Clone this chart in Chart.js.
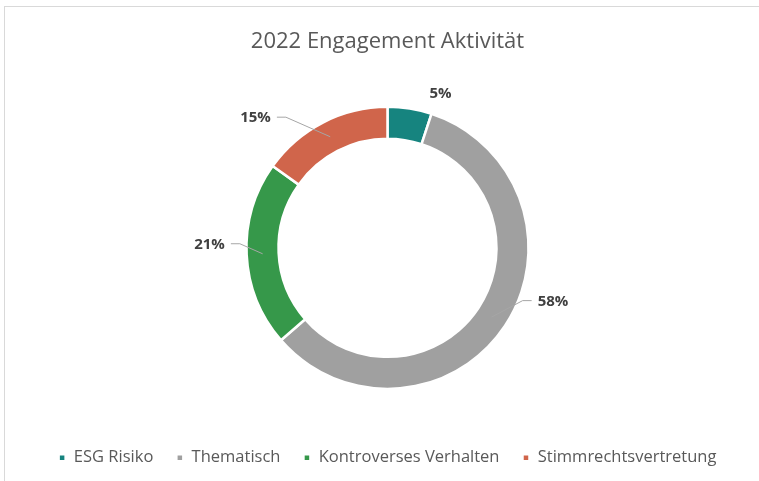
<!DOCTYPE html>
<html>
<head>
<meta charset="utf-8">
<script src="https://cdn.jsdelivr.net/npm/chart.js@4"></script>
<style>
  html, body { margin: 0; padding: 0; background: #fff; }
  #frame { position: absolute; left: 4px; top: 6px; width: 755px; height: 475px;
           border-top: 1px solid #d9d9d9; border-left: 1px solid #d9d9d9; }
  #myChart { position: absolute; left: 0; top: 0; }
</style>
</head>
<body>
<div id="frame"></div>
<canvas id="myChart" width="759" height="481"></canvas>
<script>
// chart data
const categories = ['ESG Risiko', 'Thematisch', 'Kontroverses Verhalten', 'Stimmrechtsvertretung'];
const shares = [5, 58, 21, 15];
const sliceColors = ['#16847F', '#A0A0A0', '#36984A', '#D0654B'];

const FONT = '"Open Sans", sans-serif';

// draws the percent labels outside the ring, with leader lines like excel
const sliceLabels = {
    id: 'sliceLabels',
    afterDatasetsDraw(chart, args, opts) {
        const ctx = chart.ctx;
        const meta = chart.getDatasetMeta(0);
        ctx.save();
        ctx.font = 'bold 15px ' + FONT;
        ctx.textAlign = 'center';
        ctx.textBaseline = 'middle';
        meta.data.forEach((arc, i) => {
            const p = arc.getProps(['x', 'y', 'startAngle', 'endAngle', 'innerRadius', 'outerRadius']);
            const mid = (p.startAngle + p.endAngle) / 2;
            const rMid = (p.innerRadius + p.outerRadius) / 2;
            const ax = p.x + Math.cos(mid) * rMid;
            const ay = p.y + Math.sin(mid) * rMid;
            const pl = opts.placement[i];
            const a = (pl.angle - 90) * Math.PI / 180;
            const lx = p.x + Math.cos(a) * pl.dist;
            const ly = p.y + Math.sin(a) * pl.dist;
            const text = shares[i] + '%';
            const w = ctx.measureText(text).width;
            if (pl.leader) {
                const side = lx < ax ? 1 : -1;
                const sx = lx + side * (w / 2 + 6);
                ctx.beginPath();
                ctx.strokeStyle = '#A6A6A6';
                ctx.lineWidth = 1;
                ctx.moveTo(sx, ly - 1);
                ctx.lineTo(sx + side * 9, ly - 1);
                ctx.lineTo(ax, ay);
                ctx.stroke();
            }
            ctx.fillStyle = '#404040';
            ctx.fillText(text, lx, ly);
        });
        ctx.restore();
    }
};

var ctx = document.getElementById('myChart');
const chart = new Chart(ctx, {
    type: 'doughnut',
    data: {
        labels: categories,
        datasets: [{
            data: shares,
            backgroundColor: sliceColors,
            borderColor: '#ffffff',
            borderWidth: 2.5,
            radius: 141,
            cutout: '77.3%'
        }]
    },
    options: {
        responsive: false,
        animation: false,
        events: [],
        layout: {padding: {top: 0, bottom: 5, left: 16, right: 0}},
        plugins: {
            title: {
                display: true,
                text: '2022 Engagement Aktivität',
                color: '#595959',
                font: {family: FONT, size: 22, weight: 'normal'},
                padding: {top: 28.8, bottom: 14}
            },
            legend: {
                position: 'bottom',
                labels: {
                    color: '#595959',
                    font: {family: FONT, size: 16.5},
                    boxWidth: 7,
                    boxHeight: 7,
                    padding: 23
                }
            },
            tooltip: {enabled: false},
            sliceLabels: {
                placement: [
                    {angle: 19, dist: 163, leader: false},
                    {angle: 108, dist: 174, leader: true},
                    {angle: 271, dist: 178, leader: true},
                    {angle: 314.5, dist: 185, leader: true}
                ]
            }
        }
    },
    plugins: [sliceLabels]
});
</script>
</body>
</html>
